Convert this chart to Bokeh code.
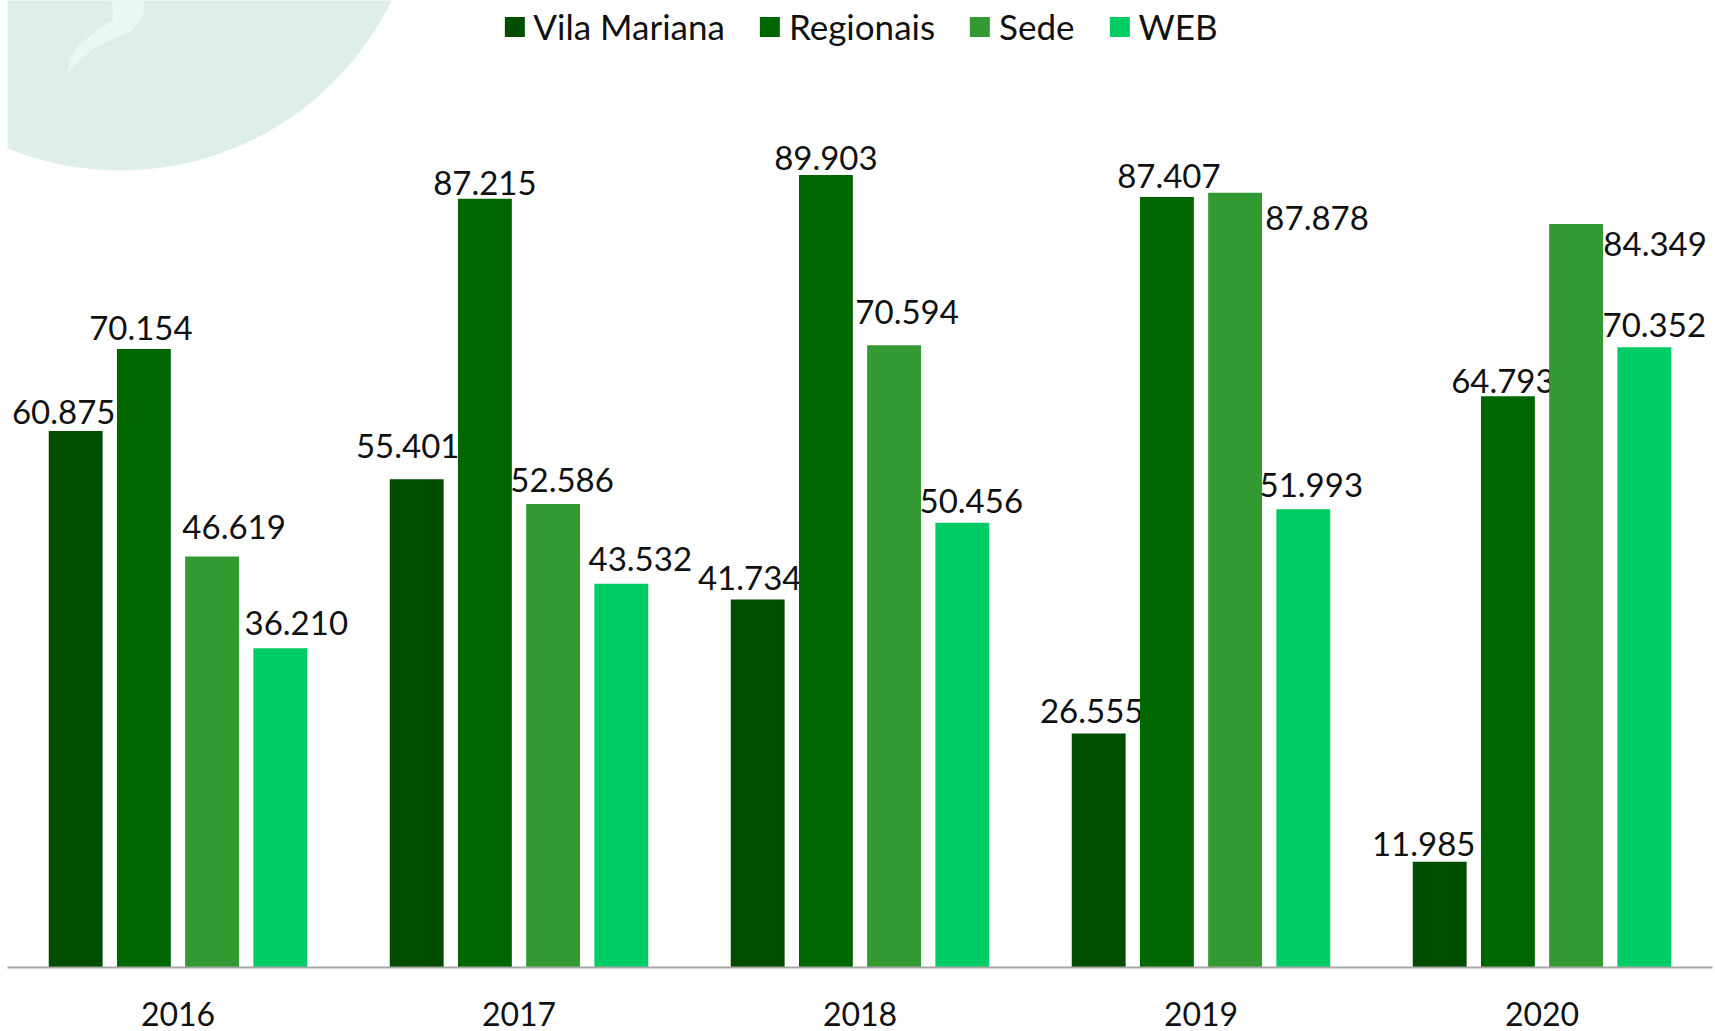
from bokeh.plotting import figure
from bokeh.models import ColumnDataSource, FactorRange, Range1d, Legend, LegendItem
from bokeh.transform import dodge
from bokeh.core.properties import value
from bokeh.embed import file_html
from bokeh.resources import INLINE

years = ["2016", "2017", "2018", "2019", "2020"]
series = ["Vila Mariana", "Regionais", "Sede", "WEB"]
vila_mariana = [60875, 55401, 41734, 26555, 11985]
regionais = [70154, 87215, 89903, 87407, 64793]
sede = [46619, 52586, 70594, 87878, 84349]
web = [36210, 43532, 50456, 51993, 70352]
all_values = [vila_mariana, regionais, sede, web]

colors = ["#004d00", "#006600", "#339933", "#00cc66"]
offsets = [-0.3, -0.1, 0.1, 0.3]
bar_width = 0.158

# manual label nudges (screen px), per series, per year
label_dx = [
    [-12, -9, -8, -7, -16],
    [-3, 0, 0, 2, -5],
    [22, 9, 13, 82, 79],
    [16, 19, 9, 8, 10],
]
label_dy = [
    [-19, -33, -22, -22, -18],
    [-21, -16, -17, -21, -15],
    [-30, -24, -33, 25, 20],
    [-25, -25, -22, -24, -22],
]

FONT = "Lato"
Y_END = 109700
FRAME_L, FRAME_B, FRAME_H, PX_PER_CAT = 7, 967, 967, 341


def to_data(px, py):
    # decoration helper: screen px -> plot coordinates
    return (px - FRAME_L) / PX_PER_CAT, (FRAME_B - py) / FRAME_H * Y_END


p = figure(
    x_range=FactorRange(*years),
    y_range=Range1d(0, Y_END),
    width=1715, height=1031,
    output_backend="svg", toolbar_location=None,
    y_axis_location=None,
    min_border_left=7, min_border_right=3, min_border_top=0, min_border_bottom=64,
)
p.background_fill_color = "white"
p.border_fill_color = "white"
p.outline_line_color = None
p.xgrid.grid_line_color = None
p.ygrid.grid_line_color = None

# watermark disc + swoosh (decoration)
cx, cy = to_data(120, -131)
p.circle(x=[cx], y=[cy], radius=301, radius_units="screen",
         fill_color="#ddefe8", line_color=None)
sw = [(67, 72), (70, 57), (80, 43), (97, 30), (112, 20), (113, 10), (110, -2),
      (144, -2), (142, 17), (132, 30), (113, 38), (93, 48), (77, 62)]
sx, sy = zip(*[to_data(a, b) for a, b in sw])
p.patch(x=list(sx), y=list(sy), fill_color="#ebf7f2", line_color=None)

items = []
for name, vals, col, off, dxs, dys in zip(series, all_values, colors, offsets, label_dx, label_dy):
    src = ColumnDataSource(dict(
        year=years, value=vals,
        label=[f"{v:,}".replace(",", ".") for v in vals],
        dx=dxs, dy=dys,
    ))
    r = p.vbar(x=dodge("year", off, range=p.x_range), top="value", width=bar_width,
               source=src, fill_color=col, line_color=None)
    p.text(x=dodge("year", off, range=p.x_range), y="value", text="label",
           x_offset="dx", y_offset="dy", source=src,
           text_align="center", text_baseline="middle",
           text_font=value(FONT), text_font_size="33px", text_color="#111111")
    items.append(LegendItem(label=name, renderers=[r]))

legend = Legend(items=items, orientation="horizontal", location="top_center",
                label_text_font=FONT, label_text_font_size="35px", label_text_color="#111111",
                glyph_width=25, glyph_height=25, label_standoff=7, spacing=32,
                padding=10, margin=5, border_line_color=None, background_fill_alpha=0)
p.add_layout(legend)

ax = p.xaxis[0]
ax.axis_line_color = "#a6a6a6"
ax.axis_line_width = 2
ax.major_tick_line_color = None
ax.minor_tick_line_color = None
ax.major_tick_out = 0
ax.major_tick_in = 0
ax.major_label_standoff = 34
ax.major_label_text_font = FONT
ax.major_label_text_font_size = "32px"
ax.major_label_text_color = "#111111"

open("out.html", "w").write(file_html(p, INLINE))
